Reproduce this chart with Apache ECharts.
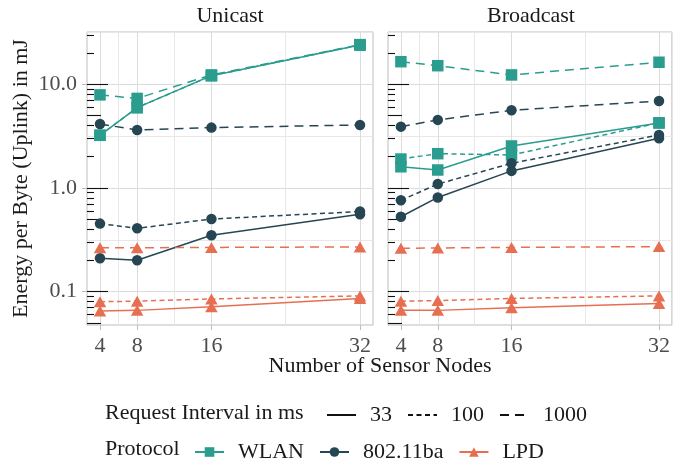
<!DOCTYPE html>
<html><head><meta charset="utf-8">
<script src="https://cdn.jsdelivr.net/npm/echarts@6/dist/echarts.min.js"></script>
<style>html,body{margin:0;padding:0;background:#fff}#c{width:673px;height:466px}</style>
</head><body><div id="c"></div>
<script>
// ---------- data ----------
const nodes = [4, 8, 16, 32];
const panels = ['Unicast', 'Broadcast'];
const intervals = ['33', '100', '1000'];
const protocols = ['WLAN', '802.11ba', 'LPD'];

// Unicast
const uni_WLAN_33   = [3.22, 5.95, 12.1, 23.9];
const uni_WLAN_100  = [3.22, 5.95, 12.1, 23.9];
const uni_WLAN_1000 = [7.9, 7.3, 12.3, 24.1];
const uni_BA_33     = [0.210, 0.201, 0.350, 0.557];
const uni_BA_100    = [0.453, 0.408, 0.502, 0.592];
const uni_BA_1000   = [4.14, 3.62, 3.82, 4.05];
const uni_LPD_33    = [0.065, 0.066, 0.0716, 0.086];
const uni_LPD_100   = [0.080, 0.081, 0.085, 0.091];
const uni_LPD_1000  = [0.265, 0.265, 0.267, 0.270];
// Broadcast
const bc_WLAN_33    = [1.60, 1.49, 2.54, 4.24];
const bc_WLAN_100   = [1.90, 2.14, 2.08, 4.24];
const bc_WLAN_1000  = [16.5, 15.1, 12.3, 16.3];
const bc_BA_33      = [0.528, 0.81, 1.46, 3.01];
const bc_BA_100     = [0.76, 1.09, 1.73, 3.24];
const bc_BA_1000    = [3.90, 4.53, 5.61, 6.90];
const bc_LPD_33     = [0.066, 0.066, 0.070, 0.077];
const bc_LPD_100    = [0.081, 0.082, 0.086, 0.091];
const bc_LPD_1000   = [0.262, 0.264, 0.267, 0.272];

const yTickLabels = [0.1, 1, 10];
const xMinorGrid = [6, 12, 24];
const yMinorGrid = [0.316, 3.16, 31.6];
const logTicksShort = [0.06,0.07,0.08,0.09,0.2,0.3,0.4,0.6,0.7,0.8,0.9,2,3,4,6,7,8,9,20,30];
const logTicksMid = [0.05, 0.5, 5];
const logTicksLong = [0.1, 1, 10];

const values = {
  Unicast: {
    WLAN: {'33': uni_WLAN_33, '100': uni_WLAN_100, '1000': uni_WLAN_1000},
    '802.11ba': {'33': uni_BA_33, '100': uni_BA_100, '1000': uni_BA_1000},
    LPD: {'33': uni_LPD_33, '100': uni_LPD_100, '1000': uni_LPD_1000}
  },
  Broadcast: {
    WLAN: {'33': bc_WLAN_33, '100': bc_WLAN_100, '1000': bc_WLAN_1000},
    '802.11ba': {'33': bc_BA_33, '100': bc_BA_100, '1000': bc_BA_1000},
    LPD: {'33': bc_LPD_33, '100': bc_LPD_100, '1000': bc_LPD_1000}
  }
};

// ---------- style ----------
const FONT = '"Liberation Serif", "Times New Roman", serif';
const colors = {WLAN: '#2a9d8f', '802.11ba': '#264653', LPD: '#e76f51'};
const symbols = {WLAN: 'rect', '802.11ba': 'circle', LPD: 'triangle'};
const symbolSizes = {WLAN: 11.5, '802.11ba': 10.5, LPD: [12.5, 11]};
const dashes = {'33': 'solid', '100': [5, 3.5], '1000': [9, 6]};
const Y_MIN = 0.0477, Y_MAX = 31.9, X_MIN = 2.6, X_MAX = 33.4;
const gridLeft = [87, 388];
const AXES_PER_GRID_Y = 5, AXES_PER_GRID_X = 2;

const grids = gridLeft.map(l => ({
  left: l, top: 32, width: 286, height: 293,
  show: true, borderColor: '#bdbdbd', borderWidth: 1, backgroundColor: 'transparent'
}));

const xAxes = [], yAxes = [];
gridLeft.forEach((_, g) => {
  const baseX = {type: 'value', gridIndex: g, min: X_MIN, max: X_MAX, position: 'bottom',
    axisLine: {show: false, onZero: false}};
  xAxes.push(Object.assign({}, baseX, {
    axisTick: {show: true, customValues: nodes, length: 5, lineStyle: {color: '#bdbdbd'}},
    axisLabel: {show: true, customValues: nodes, color: '#4d4d4d', fontSize: 22, fontFamily: FONT, margin: 10},
    splitLine: {show: true, lineStyle: {color: '#dcdcdc', width: 1}}
  }));
  xAxes.push(Object.assign({}, baseX, {
    axisTick: {show: false, customValues: xMinorGrid},
    axisLabel: {show: false},
    splitLine: {show: true, lineStyle: {color: '#e8e8e8', width: 1}}
  }));
  const baseY = {type: 'log', logBase: 10, gridIndex: g, min: Y_MIN, max: Y_MAX, position: 'left',
    axisLine: {show: false, onZero: false}};
  yAxes.push(Object.assign({}, baseY, {
    name: g === 0 ? 'Energy per Byte (Uplink) in mJ' : '',
    nameLocation: 'middle', nameRotate: 90, nameGap: 55,
    nameTextStyle: {fontSize: 22, fontFamily: FONT, color: '#1a1a1a'},
    axisTick: {show: g === 0, customValues: yTickLabels, length: 5, lineStyle: {color: '#bdbdbd'}},
    axisLabel: {show: g === 0, customValues: yTickLabels, color: '#4d4d4d', fontSize: 22, fontFamily: FONT, margin: 10,
      formatter: v => Number(v).toFixed(1)},
    splitLine: {show: true, lineStyle: {color: '#dcdcdc', width: 1}}
  }));
  yAxes.push(Object.assign({}, baseY, {
    axisTick: {show: false, customValues: yMinorGrid},
    axisLabel: {show: false},
    splitLine: {show: true, lineStyle: {color: '#e8e8e8', width: 1}}
  }));
  [[logTicksShort, 7], [logTicksMid, 14], [logTicksLong, 21]].forEach(([vals, len]) => {
    yAxes.push(Object.assign({}, baseY, {
      axisTick: {show: true, inside: true, customValues: vals, length: len, lineStyle: {color: '#111', width: 1.1}},
      axisLabel: {show: false},
      splitLine: {show: false}
    }));
  });
});

const series = [];
panels.forEach((p, g) => {
  protocols.forEach(pr => {
    intervals.forEach(iv => {
      const vals = values[p][pr][iv];
      series.push({
        type: 'line', name: p + ' ' + pr + ' ' + iv,
        xAxisIndex: g * AXES_PER_GRID_X, yAxisIndex: g * AXES_PER_GRID_Y,
        data: nodes.map((n, i) => [n, vals[i]]),
        symbol: symbols[pr], symbolSize: symbolSizes[pr], showSymbol: true,
        lineStyle: {color: colors[pr], width: 1.5, type: dashes[iv]},
        itemStyle: {color: colors[pr]},
        z: 3, silent: true
      });
    });
  });
});
// legend-only series (no marks)
intervals.forEach(iv => series.push({
  type: 'line', name: iv, xAxisIndex: 0, yAxisIndex: 0, data: [],
  symbol: 'circle', symbolSize: 0,
  lineStyle: {color: '#111', width: 1.5, type: dashes[iv]},
  itemStyle: {color: 'rgba(0,0,0,0)', borderWidth: 0}
}));
protocols.forEach(pr => series.push({
  type: 'line', name: pr, xAxisIndex: 0, yAxisIndex: 0, data: [],
  symbol: symbols[pr], lineStyle: {color: colors[pr], width: 1.5}, itemStyle: {color: colors[pr]}
}));

const legendCommon = {
  orient: 'horizontal', padding: 0, itemWidth: 29, itemHeight: 12, itemGap: 15, selectedMode: false,
  textStyle: {fontSize: 22, fontFamily: FONT, color: '#1a1a1a', padding: [0, 0, 0, 9]}
};

const textEl = (text, x, y, align) => ({
  type: 'text', x: x, y: y, silent: true,
  style: {text: text, font: '22px ' + FONT, fill: '#1a1a1a', align: align, verticalAlign: 'middle'}
});

const option = {
  animation: false,
  backgroundColor: '#ffffff',
  grid: grids,
  xAxis: xAxes,
  yAxis: yAxes,
  series: series,
  legend: [
    Object.assign({}, legendCommon, {data: intervals, left: 326, top: 404}),
    Object.assign({}, legendCommon, {data: protocols, left: 194, top: 441})
  ],
  graphic: [
    textEl(panels[0], 230, 16, 'center'),
    textEl(panels[1], 531, 16, 'center'),
    textEl('Number of Sensor Nodes', 380, 366, 'center'),
    textEl('Request Interval in ms', 105, 413, 'left'),
    textEl('Protocol', 105, 449, 'left')
  ]
};

const chart = echarts.init(document.getElementById('c'), null, {renderer: 'canvas'});
chart.setOption(option);
</script>
</body></html>
